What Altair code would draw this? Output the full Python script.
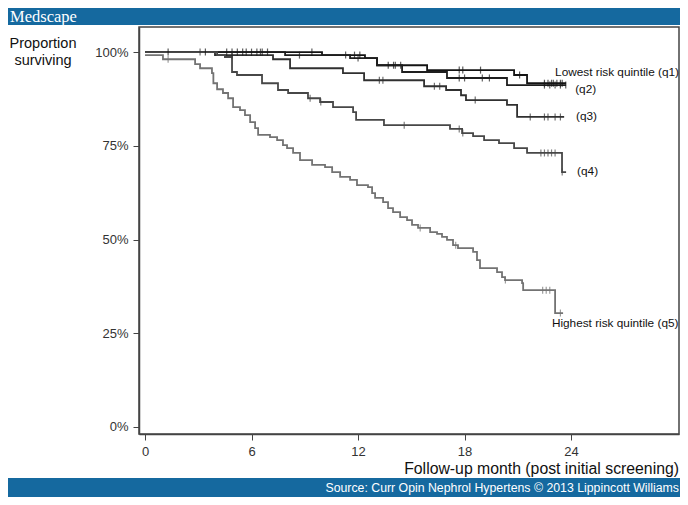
import altair as alt
import pandas as pd

# ---------------- data ----------------
quintiles = ["q1", "q2", "q3", "q4", "q5"]

q1_time = [0, 9.97, 12.39, 13.07, 15.89, 20.79, 21.52, 23.72]
q1_surv = [1.0, 0.992, 0.984, 0.965, 0.952, 0.939, 0.917, 0.917]

q2_time = [0, 7.89, 11.55, 13.07, 14.48, 17.01, 20.39, 23.72]
q2_surv = [1.0, 0.992, 0.984, 0.965, 0.947, 0.931, 0.912, 0.912]

q3_time = [0, 3.94, 7.21, 8.17, 11.15, 12.34, 15.72, 16.96, 17.80, 18.08, 20.39, 20.96, 23.61]
q3_surv = [1.0, 0.992, 0.981, 0.957, 0.944, 0.925, 0.909, 0.899, 0.885, 0.872, 0.859, 0.827, 0.827]

q4_time = [0, 4.06, 4.5, 4.9, 5.18, 6.59, 7.49, 8.06, 9.18, 9.86, 10.59, 11.72, 11.89, 13.46,
           17.18, 17.86, 18.48, 19.10, 19.94, 20.79, 21.52, 23.49, 23.72]
q4_surv = [1.0, 0.992, 0.987, 0.947, 0.939, 0.917, 0.899, 0.891, 0.877, 0.867, 0.853, 0.840, 0.819, 0.805,
           0.795, 0.784, 0.776, 0.765, 0.757, 0.744, 0.731, 0.680, 0.680]

q5_time = [0, 1.01, 2.82, 3.10, 3.77, 3.85, 4.06, 4.39, 4.68, 4.96, 5.35, 5.63, 5.92, 6.20, 6.37,
           7.04, 7.44, 7.77, 8.0, 8.34, 8.73, 9.41, 10.14, 10.54, 10.99, 11.55, 11.94, 12.56, 12.79,
           12.96, 13.41, 13.69, 13.97, 14.37, 14.76, 15.04, 15.38, 16.06, 16.45, 16.73, 17.01, 17.35,
           17.63, 18.48, 18.70, 18.87, 19.83, 20.11, 20.28, 21.24, 21.30, 23.10, 23.55]
q5_surv = [0.992, 0.981, 0.968, 0.957, 0.944, 0.917, 0.901, 0.891, 0.877, 0.853, 0.845, 0.832, 0.813,
           0.797, 0.779, 0.773, 0.765, 0.752, 0.744, 0.731, 0.712, 0.699, 0.693, 0.680, 0.667, 0.659,
           0.645, 0.640, 0.624, 0.611, 0.600, 0.584, 0.573, 0.560, 0.552, 0.539, 0.531, 0.520, 0.515,
           0.507, 0.499, 0.485, 0.477, 0.467, 0.445, 0.424, 0.413, 0.400, 0.392, 0.384, 0.365, 0.304, 0.304]

# censored observations (months)
q1_cens = [1.3, 3.4, 4.6, 4.9, 5.2, 5.5, 5.7, 6.0, 6.3, 6.6, 6.9, 9.4, 11.8, 12.1, 13.7, 14.0,
           17.7, 17.9, 18.9, 21.1, 22.5, 22.7, 22.9, 23.0, 23.2, 23.4, 23.5]
q2_cens = [6.5, 8.7, 11.3, 12.0, 14.1, 14.4, 17.7, 18.0, 19.0, 19.4, 22.5, 22.8, 23.1, 23.4, 23.7]
q3_cens = [3.1, 4.9, 13.2, 13.4, 16.3, 16.6, 18.6, 21.7, 22.5, 22.7, 23.1, 23.4]
q4_cens = [9.3, 9.9, 14.6, 17.7, 17.9, 22.3, 22.5, 22.7, 22.9, 23.1, 23.5]
q5_cens = [1.3, 15.5, 17.5, 20.3, 22.4, 22.6, 22.8, 23.4]

curve_labels = ["Lowest risk quintile (q1)", "(q2)", "(q3)", "(q4)", "Highest risk quintile (q5)"]
label_time = [23.10, 24.23, 24.28, 24.34, 22.92]
label_surv = [0.947, 0.901, 0.829, 0.683, 0.277]

x_ticks = [0, 6, 12, 18, 24]
y_ticks = [0, 0.25, 0.5, 0.75, 1.0]

series = {
    "q1": (q1_time, q1_surv, q1_cens),
    "q2": (q2_time, q2_surv, q2_cens),
    "q3": (q3_time, q3_surv, q3_cens),
    "q4": (q4_time, q4_surv, q4_cens),
    "q5": (q5_time, q5_surv, q5_cens),
}

rows, cens_rows = [], []
for q, (t, s, c) in series.items():
    assert len(t) == len(s), q
    for ti, si in zip(t, s):
        rows.append({"q": q, "month": ti, "surv": si})
    for ct in c:
        sv = s[0]
        for ti, si in zip(t, s):
            if ti <= ct:
                sv = si
        cens_rows.append({"q": q, "month": ct, "surv": sv})

curves = pd.DataFrame(rows)
cens = pd.DataFrame(cens_rows)
labels = pd.DataFrame({"q": quintiles, "label": curve_labels, "month": label_time, "surv": label_surv})

BLUE = "#15699f"
colors = ["#141414", "#1e1e1e", "#303030", "#474747", "#737373"]

# plot area: 540 x 407 px; 0 month at 6 px, 17.75 px per month
xs = alt.Scale(domain=[-0.34, 30.08], nice=False, zero=False)
ys = alt.Scale(domain=[-0.0187, 1.067], nice=False, zero=False)
cs = alt.Scale(domain=quintiles, range=colors)

LABFONT = "Liberation Sans"
xax = alt.Axis(values=x_ticks, title=None, grid=False, tickSize=6, labelPadding=5,
               labelFont=LABFONT, labelFontSize=13,
               labelColor="#333333", tickColor="#444444", domainColor="#444444", domainWidth=1.5)
yax = alt.Axis(values=y_ticks, format=".0%", title=None, grid=False, tickSize=6, labelPadding=5,
               labelFont=LABFONT, labelFontSize=13,
               labelColor="#333333", tickColor="#444444", domainColor="#444444", domainWidth=1.5)

lines = alt.Chart(curves).mark_line(interpolate="step-after", strokeWidth=1.8).encode(
    x=alt.X("month:Q", scale=xs, axis=xax),
    y=alt.Y("surv:Q", scale=ys, axis=yax),
    color=alt.Color("q:N", scale=cs, legend=None),
    detail="q:N",
)

ticks = alt.Chart(cens).mark_tick(orient="vertical", size=7, thickness=1.2).encode(
    x=alt.X("month:Q", scale=xs),
    y=alt.Y("surv:Q", scale=ys),
    color=alt.Color("q:N", scale=cs, legend=None),
)

lab = alt.Chart(labels).mark_text(align="left", baseline="middle", font="Liberation Sans",
                                  fontSize=11.8, color="#111111").encode(
    x=alt.X("month:Q", scale=xs),
    y=alt.Y("surv:Q", scale=ys),
    text="label:N",
)

one = pd.DataFrame({"k": [0]})

header = alt.Chart(one).mark_rect(color=BLUE).encode(
    x=alt.value(-131), x2=alt.value(541), y=alt.value(-19), y2=alt.value(-2))
header_txt = alt.Chart(one).mark_text(align="left", baseline="alphabetic", color="white",
                                      font="Liberation Serif", fontSize=16.5).encode(
    x=alt.value(-129), y=alt.value(-5), text=alt.value("Medscape"))

footer = alt.Chart(one).mark_rect(color=BLUE).encode(
    x=alt.value(-131), x2=alt.value(541), y=alt.value(451), y2=alt.value(470))
footer_txt = alt.Chart(one).mark_text(align="right", baseline="middle", color="white",
                                      font="Liberation Sans", fontSize=12.3).encode(
    x=alt.value(540), y=alt.value(461),
    text=alt.value("Source: Curr Opin Nephrol Hypertens © 2013 Lippincott Williams"))

ytitle = alt.Chart(one).mark_text(align="center", baseline="middle", color="#111111",
                                  font="Liberation Sans", fontSize=14.5, lineHeight=17).encode(
    x=alt.value(-96), y=alt.value(17), text=alt.value(["Proportion", "surviving"]))

xtitle = alt.Chart(one).mark_text(align="right", baseline="middle", color="#111111",
                                  font="Liberation Sans", fontSize=15.8).encode(
    x=alt.value(540), y=alt.value(442),
    text=alt.value("Follow-up month (post initial screening)"))

chart = alt.layer(lines, ticks, lab, header, header_txt, footer, footer_txt, ytitle, xtitle).properties(
    width=540, height=407,
    padding={"left": 131, "top": 19, "right": 1, "bottom": 63},
    autosize=alt.AutoSizeParams(type="none"),
    background="white",
).configure_view(stroke="#444444", strokeWidth=1.5)

chart.save("out.html", embed_options={"renderer": "svg", "actions": False})
